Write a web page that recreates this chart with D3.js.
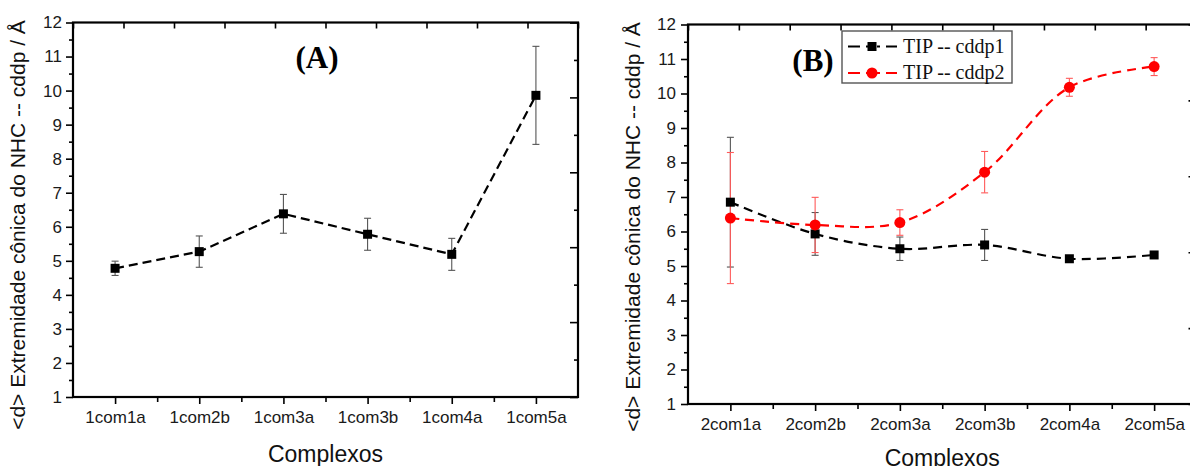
<!DOCTYPE html>
<html>
<head>
<meta charset="utf-8">
<script src="https://cdn.jsdelivr.net/npm/d3@7"></script>
<style>
  body { margin: 0; background: #fff; }
  svg { display: block; }
  .tick text { font-family: "Liberation Sans", Arial, sans-serif; font-size: 17px; fill: #1a1a1a; }
  .tick line { stroke: #000; stroke-width: 1.6; }
</style>
</head>
<body>
<svg width="1190" height="466"></svg>
<script>

// data
var catsA = ["1com1a", "1com2b", "1com3a", "1com3b", "1com4a", "1com5a"];
var valsA = [4.78, 5.27, 6.38, 5.78, 5.19, 9.86];
var errA = [0.21, 0.46, 0.57, 0.47, 0.47, 1.44];

var catsB = ["2com1a", "2com2b", "2com3a", "2com3b", "2com4a", "2com5a"];
var cddp1 = [6.85, 5.93, 5.50, 5.61, 5.21, 5.32];
var cddp1Err = [1.88, 0.62, 0.34, 0.45, 0.08, 0.08];
var cddp2 = [6.39, 6.19, 6.26, 7.72, 10.18, 10.78];
var cddp2Err = [1.90, 0.80, 0.37, 0.60, 0.26, 0.26];

var yTicks = d3.range(1, 13);
var yMinor = d3.range(1.5, 12, 1);
var legendNames = ["TIP -- cddp1", "TIP -- cddp2"];

var yTitle = "<d> Extremidade cônica do NHC -- cddp / Å";
var xTitle = "Complexos";

var svg = d3.select("svg");

function drawPanel(cfg){

    var g = svg.append("g");

    var x = d3.scalePoint().domain(cfg.cats).range([cfg.left, cfg.right]).padding(0.5);
    var xIdx = d3.scaleLinear().domain([-0.5, cfg.cats.length - 0.5]).range([cfg.left, cfg.right]);
    var y = d3.scaleLinear().domain([1, 12]).range([cfg.bottom, cfg.top]);

    // left axis, major + minor
    g.append("g").attr("transform", "translate(" + cfg.left + ",0)")
        .call(d3.axisLeft(y).tickValues(yTicks).tickFormat(d3.format("d")).tickSize(7).tickPadding(cfg.yPad))
        .call(a => a.select(".domain").remove());
    g.append("g").attr("transform", "translate(" + cfg.left + ",0)")
        .call(d3.axisLeft(y).tickValues(yMinor).tickFormat("").tickSize(4))
        .call(a => a.select(".domain").remove());

    // bottom axis, categories + midpoints
    g.append("g").attr("transform", "translate(0," + cfg.bottom + ")")
        .call(d3.axisBottom(x).tickSize(7).tickPadding(7))
        .call(a => a.select(".domain").remove());
    g.append("g").attr("transform", "translate(0," + cfg.bottom + ")")
        .call(d3.axisBottom(xIdx).tickValues(d3.range(0.5, cfg.cats.length - 1, 1)).tickFormat("").tickSize(5))
        .call(a => a.select(".domain").remove());

    // top and right axes (inner ticks, no labels)
    var topScale = d3.scaleLinear().domain([0, 10]).range([cfg.left, cfg.right]);
    g.append("g").attr("transform", "translate(0," + cfg.top + ")")
        .call(d3.axisBottom(topScale).ticks(10).tickFormat("").tickSize(6))
        .call(a => a.select(".domain").remove());
    var rightScale = d3.scaleLinear().domain([0, 10]).range([cfg.bottom, cfg.top]);
    g.append("g").attr("transform", "translate(" + cfg.right + ",0)")
        .call(d3.axisLeft(rightScale).tickValues([0, 2, 4, 6, 8, 10]).tickFormat("").tickSize(8))
        .call(a => a.select(".domain").remove());
    g.append("g").attr("transform", "translate(" + cfg.right + ",0)")
        .call(d3.axisLeft(rightScale).tickValues([1, 3, 5, 7, 9]).tickFormat("").tickSize(4))
        .call(a => a.select(".domain").remove());

    g.append("rect")
        .attr("x", cfg.left).attr("y", cfg.top)
        .attr("width", cfg.right - cfg.left).attr("height", cfg.bottom - cfg.top)
        .attr("fill", "none").attr("stroke", "#000").attr("stroke-width", 2.2);

    // axis titles
    g.append("text")
        .attr("transform", "translate(" + cfg.yTitleX + "," + cfg.yTitleY + ") rotate(-90)")
        .attr("text-anchor", "middle")
        .attr("dy", "0.35em")
        .style("font-family", "Liberation Sans, Arial, sans-serif")
        .style("font-size", "21px")
        .attr("fill", "#111")
        .text(yTitle);

    g.append("text")
        .attr("x", (cfg.left + cfg.right) / 2)
        .attr("y", cfg.xTitleY)
        .attr("text-anchor", "middle")
        .style("font-family", "Liberation Sans, Arial, sans-serif")
        .style("font-size", "23px")
        .attr("fill", "#111")
        .text(xTitle);

    // panel letter
    g.append("text")
        .attr("x", cfg.letterX).attr("y", cfg.letterY)
        .attr("text-anchor", "middle")
        .style("font-family", "Liberation Serif, Times New Roman, serif")
        .style("font-size", "31px")
        .style("font-weight", "bold")
        .attr("fill", "#000")
        .text(cfg.letter);

    var series = cfg.series;

    // error bars first
    series.forEach(function(s){
        var eb = g.append("g").attr("stroke", s.errColor).attr("stroke-width", 1.1);
        s.vals.forEach(function(v, i){
            var cx = x(cfg.cats[i]);
            var y1 = y(v + s.err[i]), y2 = y(v - s.err[i]);
            eb.append("line").attr("x1", cx).attr("x2", cx).attr("y1", y1).attr("y2", y2);
            eb.append("line").attr("x1", cx - 3.5).attr("x2", cx + 3.5).attr("y1", y1).attr("y2", y1);
            eb.append("line").attr("x1", cx - 3.5).attr("x2", cx + 3.5).attr("y1", y2).attr("y2", y2);
        });
    });

    // lines
    series.forEach(function(s){
        var line = d3.line()
            .x((d, i) => x(cfg.cats[i]))
            .y(d => y(d))
            .curve(cfg.curve);
        g.append("path")
            .datum(s.vals)
            .attr("d", line)
            .attr("fill", "none")
            .attr("stroke", s.color)
            .attr("stroke-width", 2.2)
            .attr("stroke-dasharray", s.dash);
    });

    // markers
    series.forEach(function(s){
        s.vals.forEach(function(v, i){
            drawMarker(g, s.shape, x(cfg.cats[i]), y(v), s.color);
        });
    });

    return g;
}

function drawMarker(g, shape, cx, cy, color){
    if(shape == "square"){
        g.append("rect")
            .attr("x", cx - 4.5).attr("y", cy - 4.5)
            .attr("width", 9).attr("height", 9)
            .attr("fill", color);
    } else {
        g.append("circle")
            .attr("cx", cx).attr("cy", cy).attr("r", 5.5)
            .attr("fill", color);
    }
}

drawPanel({
    cats: catsA, left: 73, right: 578, top: 22.5, bottom: 397,
    yPad: 4, yTitleX: 18, yTitleY: 225, xTitleY: 462,
    letter: "(A)", letterX: 317, letterY: 68,
    curve: d3.curveLinear,
    series: [
        { vals: valsA, err: errA, color: "#000", errColor: "#555", shape: "square", dash: "9,5" }
    ]
});

var gB = drawPanel({
    cats: catsB, left: 688, right: 1196.5, top: 24.5, bottom: 404,
    yPad: 5, yTitleX: 633, yTitleY: 227, xTitleY: 466,
    letter: "(B)", letterX: 813, letterY: 71,
    curve: d3.curveCatmullRom.alpha(0.5),
    series: [
        { vals: cddp1, err: cddp1Err, color: "#000", errColor: "#555", shape: "square", dash: "9,6" },
        { vals: cddp2, err: cddp2Err, color: "#ff0000", errColor: "#ff5a5a", shape: "circle", dash: "9,6" }
    ]
});

// legend for panel B
var legend = gB.append("g");
legend.append("rect")
    .attr("x", 842).attr("y", 31).attr("width", 170).attr("height", 52)
    .attr("fill", "#fff").attr("stroke", "#555").attr("stroke-width", 1.4);

var legendItems = [
    { name: legendNames[0], color: "#000", shape: "square" },
    { name: legendNames[1], color: "#ff0000", shape: "circle" }
];
legendItems.forEach(function(d, i){
    var ly = 46.5 + i * 26.5;
    legend.append("line")
        .attr("x1", 848).attr("x2", 897).attr("y1", ly).attr("y2", ly)
        .attr("stroke", d.color).attr("stroke-width", 2.2)
        .attr("stroke-dasharray", "12,6,5,6,3,6");
    drawMarker(legend, d.shape, 872, ly, d.color);
    legend.append("text")
        .attr("x", 903).attr("y", ly + 6)
        .style("font-family", "Liberation Serif, Times New Roman, serif")
        .style("font-size", "20px")
        .attr("fill", "#111")
        .text(d.name);
});

</script>
</body>
</html>
